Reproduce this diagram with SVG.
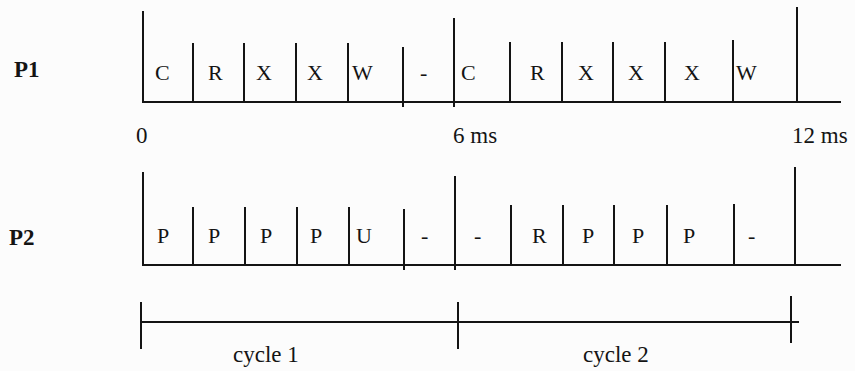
<svg xmlns="http://www.w3.org/2000/svg" width="855" height="371" viewBox="0 0 855 371">
<style>
.ln{stroke:#141414;stroke-width:2;fill:none;stroke-linecap:square}
.t{font-family:"Liberation Serif","Times New Roman",serif;font-size:22px;fill:#141414}
.lbl{font-family:"Liberation Serif","Times New Roman",serif;font-size:23px;font-weight:bold;fill:#141414}
.ax{font-family:"Liberation Serif","Times New Roman",serif;font-size:23px;fill:#141414}
</style>
<rect width="855" height="371" fill="#fcfcfc"/>
<g id="p1">
<text class="lbl" x="14" y="77">P1</text>
<g id="p1-lines">
<path class="ln" d="M143,12 V102 H840"/>
<path class="ln" d="M193,44 V102 M244,44 V102 M296,44 V102 M348,44 V102 M403,48 V106 M454,19 V106 M510,43 V102 M562,43 V102 M613,43 V102 M665,43 V102 M733,41 V102 M797,8 V102"/>
</g>
<g id="p1-labels">
<text class="t" x="155" y="80">C</text>
<text class="t" x="208" y="80">R</text>
<text class="t" x="256" y="80">X</text>
<text class="t" x="307" y="80">X</text>
<text class="t" x="352" y="80">W</text>
<text class="t" x="420" y="80">-</text>
<text class="t" x="461" y="80">C</text>
<text class="t" x="530" y="80">R</text>
<text class="t" x="578" y="80">X</text>
<text class="t" x="628" y="80">X</text>
<text class="t" x="684" y="80">X</text>
<text class="t" x="736" y="80">W</text>
</g>
</g>
<g id="time-axis">
<text class="ax" x="136" y="143">0</text>
<text class="ax" x="453" y="143">6 ms</text>
<text class="ax" x="792" y="143">12 ms</text>
</g>
<g id="p2">
<text class="lbl" x="9" y="245">P2</text>
<g id="p2-lines">
<path class="ln" d="M143,173 V265 H840"/>
<path class="ln" d="M193,208 V265 M245,208 V265 M297,208 V265 M349,208 V265 M404,210 V269 M455,177 V269 M511,206 V265 M563,206 V265 M614,206 V265 M667,206 V265 M734,205 V265 M795,168 V265"/>
</g>
<g id="p2-labels">
<text class="t" x="157" y="243">P</text>
<text class="t" x="208" y="243">P</text>
<text class="t" x="260" y="243">P</text>
<text class="t" x="310" y="243">P</text>
<text class="t" x="356" y="243">U</text>
<text class="t" x="421" y="243">-</text>
<text class="t" x="474" y="243">-</text>
<text class="t" x="532" y="243">R</text>
<text class="t" x="582" y="243">P</text>
<text class="t" x="632" y="243">P</text>
<text class="t" x="683" y="243">P</text>
<text class="t" x="748" y="243">-</text>
</g>
</g>
<g id="connectors">
<path class="ln" d="M141,322 H798"/>
<path class="ln" d="M141,303 V348 M458,303 V348 M791,297 V342"/>
</g>
<g id="cycle-labels">
<text class="ax" x="233" y="362">cycle 1</text>
<text class="ax" x="583" y="362">cycle 2</text>
</g>
</svg>
